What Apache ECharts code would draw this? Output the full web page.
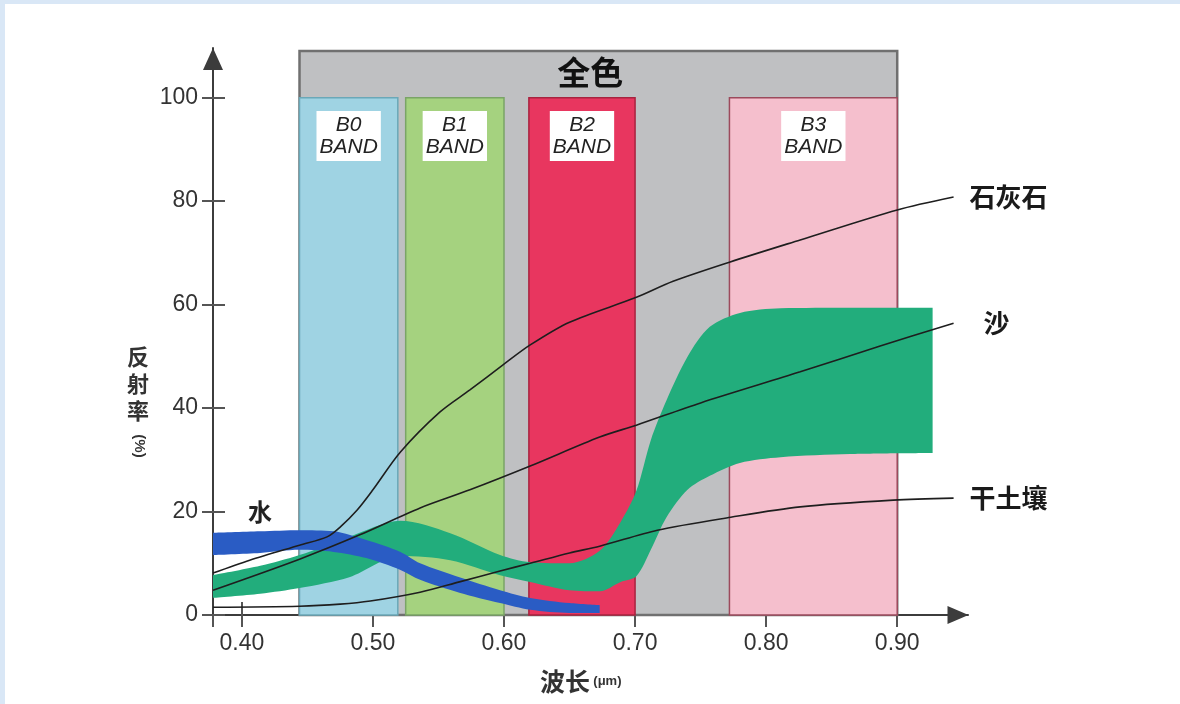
<!DOCTYPE html>
<html><head><meta charset="utf-8">
<script src="https://cdn.jsdelivr.net/npm/echarts@6/dist/echarts.min.js"></script>
<style>
html,body{margin:0;padding:0;background:#fff;}
#frame{position:absolute;left:0;top:0;width:1180px;height:704px;border-top:4px solid #d9e7f6;border-left:5px solid #d9e7f6;box-sizing:border-box;}
#chart{position:absolute;left:0;top:0;width:1180px;height:704px;}
</style></head><body>
<div id="frame"></div><div id="chart"></div>
<script>
// ---- data ----
const xTicks = [0.40, 0.50, 0.60, 0.70, 0.80, 0.90];
const yTicks = [0, 20, 40, 60, 80, 100];

const bandNames = ['全色', 'B0\nBAND', 'B1\nBAND', 'B2\nBAND', 'B3\nBAND'];
const bandStart = [0.444, 0.444, 0.525, 0.619, 0.772];
const bandEnd   = [0.900, 0.519, 0.600, 0.700, 0.900];
const bandTop   = [109, 100, 100, 100, 100];

const limeX = [0.378,0.406,0.444,0.465,0.475,0.488,0.500,0.521,0.551,0.574,0.599,0.620,0.650,0.701,0.729,0.772,0.826,0.900,0.943];
const limeY = [8.1,10.6,13.5,15.1,17.0,20.3,24.2,31.5,39.2,43.5,48.3,52.2,56.6,61.4,64.5,68.2,72.5,78.3,80.8];

const sandX = [0.378,0.444,0.490,0.536,0.574,0.620,0.673,0.701,0.750,0.826,0.887,0.943];
const sandY = [4.8,10.8,15.5,20.7,24.2,28.8,34.4,36.7,41.0,47.0,52.0,56.4];

const soilX = [0.378,0.444,0.475,0.498,0.536,0.566,0.597,0.620,0.650,0.673,0.717,0.773,0.826,0.897,0.943];
const soilY = [1.5,1.7,2.1,2.7,4.4,6.4,8.5,10.0,12.0,13.3,16.4,18.9,20.9,22.2,22.6];

const vegX     = [0.378,0.414,0.444,0.482,0.521,0.559,0.597,0.620,0.650,0.673,0.689,0.701,0.712,0.724,0.740,0.757,0.780,0.811,0.864,0.927];
const vegUpper = [7.7,9.5,11.6,15.1,18.2,15.8,11.6,10.2,10.0,12.4,18.0,24.0,33.8,41.5,49.9,55.7,58.4,59.3,59.4,59.4];
const vegLower = [3.3,4.1,5.2,7.3,11.4,10.6,7.7,6.4,4.8,4.6,6.4,7.5,12.6,18.9,24.2,26.9,29.4,30.5,31.1,31.3];

const waterX     = [0.378,0.414,0.444,0.470,0.495,0.521,0.536,0.566,0.597,0.620,0.650,0.673];
const waterUpper = [15.9,16.2,16.4,16.2,14.5,12.2,10.0,7.3,4.8,3.3,2.3,1.9];
const waterLower = [11.6,12.0,12.6,12.2,11.0,8.7,6.8,4.3,2.3,1.0,0.4,0.4];

// ---- styles ----
const X_MIN = 0.378, X_MAX = 0.954, Y_MAX = 109.6;
const bandFill   = ['#bfc0c2', '#9fd3e3', '#a5d27f', '#e8365f', '#f5bfcd'];
const bandBorder = ['#707070', '#6aa8b8', '#7aa466', '#a8233f', '#9c4a5c'];
const bandBorderW = [2.5, 1.5, 1.5, 1.5, 1.5];
const axisColor = '#3c3c3c';
const lineColor = '#1e1e1e';
const CJK = '"Noto Sans CJK SC"';

const zip = (xs, ys) => xs.map((x, i) => [x, ys[i]]);
// y-first rows so that stacking happens on the y dimension
const zipYX = (xs, ys) => xs.map((x, i) => [ys[i], x]);
const diff = (a, b) => a.map((v, i) => +(v - b[i]).toFixed(3));

const chart = echarts.init(document.getElementById('chart'));

const bandData = bandNames.map((n, i) => {
  const isPan = i === 0;
  return [{
    name: n, xAxis: bandStart[i], yAxis: 0,
    itemStyle: { color: bandFill[i], borderColor: bandBorder[i], borderWidth: bandBorderW[i] },
    label: isPan ? {
      show: true, position: 'insideTop', distance: 6, offset: [-8, 0],
      fontSize: 33, fontWeight: 'bold', color: '#111', fontFamily: CJK
    } : {
      show: true, position: 'insideTop', distance: 14,
      backgroundColor: '#ffffff', padding: [3, 3, 3, 3],
      fontStyle: 'italic', fontSize: 21, lineHeight: 22, color: '#222',
      fontFamily: 'Liberation Sans', align: 'center'
    }
  }, { xAxis: bandEnd[i], yAxis: bandTop[i] }];
});

const curveLine = (name, xs, ys, dist) => ({
  name, type: 'line', data: zip(xs, ys), smooth: 0.3,
  symbol: 'none', z: 5, silent: true,
  lineStyle: { color: lineColor, width: 1.6 },
  endLabel: { show: true, formatter: '{a}', distance: dist, fontSize: 26,
    color: '#1a1a1a', fontFamily: CJK, fontWeight: 'bold' }
});

const bandSeries = (name, stack, xs, ys, z, area) => {
  const s = {
    name, type: 'line', stack, data: zipYX(xs, ys), encode: { x: 1, y: 0 },
    smooth: 0.3, symbol: 'none', z, silent: true,
    lineStyle: { width: 0, opacity: 0 }
  };
  if (area) s.areaStyle = { color: area, opacity: 1 };
  return s;
};

const option = {
  animation: false,
  backgroundColor: 'transparent',
  grid: { left: 213, right: 212, top: 48, bottom: 89, containLabel: false },
  xAxis: [{
    type: 'value', min: X_MIN, max: X_MAX, position: 'bottom',
    axisLine: { show: true, symbol: ['none', 'triangle'], symbolSize: [18, 21], symbolOffset: [0, -10],
      lineStyle: { color: axisColor, width: 2 } },
    axisTick: { show: true, customValues: [X_MIN].concat(xTicks), length: 12,
      lineStyle: { color: '#555', width: 2 } },
    axisLabel: { customValues: xTicks, formatter: v => v.toFixed(2), margin: 17,
      fontSize: 23, color: '#333', fontFamily: 'Liberation Sans' },
    splitLine: { show: false }
  }, {
    type: 'value', min: X_MIN, max: X_MAX, position: 'bottom',
    axisLine: { show: false },
    axisTick: { show: true, inside: true, customValues: xTicks, length: 13,
      lineStyle: { color: '#555', width: 2 } },
    axisLabel: { show: false }, splitLine: { show: false }
  }],
  yAxis: [{
    type: 'value', min: 0, max: Y_MAX, position: 'left',
    axisLine: { show: true, symbol: ['none', 'triangle'], symbolSize: [20, 22], symbolOffset: [0, -11],
      lineStyle: { color: axisColor, width: 2 } },
    axisTick: { show: true, customValues: yTicks, length: 11,
      lineStyle: { color: '#555', width: 2 } },
    axisLabel: { customValues: yTicks, margin: 15, fontSize: 23, color: '#333',
      fontFamily: 'Liberation Sans', padding: [0, 0, 11, 0] },
    splitLine: { show: false }
  }, {
    type: 'value', min: 0, max: Y_MAX, position: 'left',
    axisLine: { show: false },
    axisTick: { show: true, inside: true, customValues: yTicks, length: 12,
      lineStyle: { color: '#555', width: 2 } },
    axisLabel: { show: false }, splitLine: { show: false }
  }],
  series: [
    { name: 'bands', type: 'line', data: [], silent: true, z: 1,
      markArea: { silent: true, data: bandData } },
    bandSeries('vegLow', 'veg', vegX, vegLower, 3, null),
    bandSeries('植被', 'veg', vegX, diff(vegUpper, vegLower), 3, '#22ad7c'),
    bandSeries('waterLow', 'water', waterX, waterLower, 4, null),
    bandSeries('水', 'water', waterX, diff(waterUpper, waterLower), 4, '#2a5cc4'),
    curveLine('石灰石', limeX, limeY, 16),
    curveLine('沙', sandX, sandY, 30),
    curveLine('干土壤', soilX, soilY, 16)
  ],
  graphic: [
    { type: 'text', x: 138, y: 343, silent: true,
      style: { text: '反\n射\n率', font: 'bold 22px ' + CJK, fill: '#333',
        textAlign: 'center', lineHeight: 27 } },
    { type: 'text', x: 139, y: 446, rotation: -Math.PI / 2, silent: true,
      style: { text: '(%)', font: 'bold 15px "Liberation Sans"', fill: '#333',
        textAlign: 'center', textVerticalAlign: 'middle' } },
    { type: 'text', x: 540, y: 681, silent: true,
      style: { text: '{a|波长} {b|(μm)}', textVerticalAlign: 'middle', fill: '#333',
        rich: { a: { fontSize: 25, fontFamily: CJK, fontWeight: 'bold', fill: '#333' },
                b: { fontSize: 13, fontFamily: 'Liberation Sans', fontWeight: 'bold', fill: '#333' } } } },
    { type: 'text', x: 865, y: 405, silent: true,
      style: { text: '植被', font: 'bold 25px ' + CJK, fill: '#16261e',
        textAlign: 'center', textVerticalAlign: 'middle' } },
    { type: 'text', x: 260, y: 512, silent: true,
      style: { text: '水', font: 'bold 24px ' + CJK, fill: '#222',
        textAlign: 'center', textVerticalAlign: 'middle' } }
  ]
};
chart.setOption(option);
</script>
</body></html>
